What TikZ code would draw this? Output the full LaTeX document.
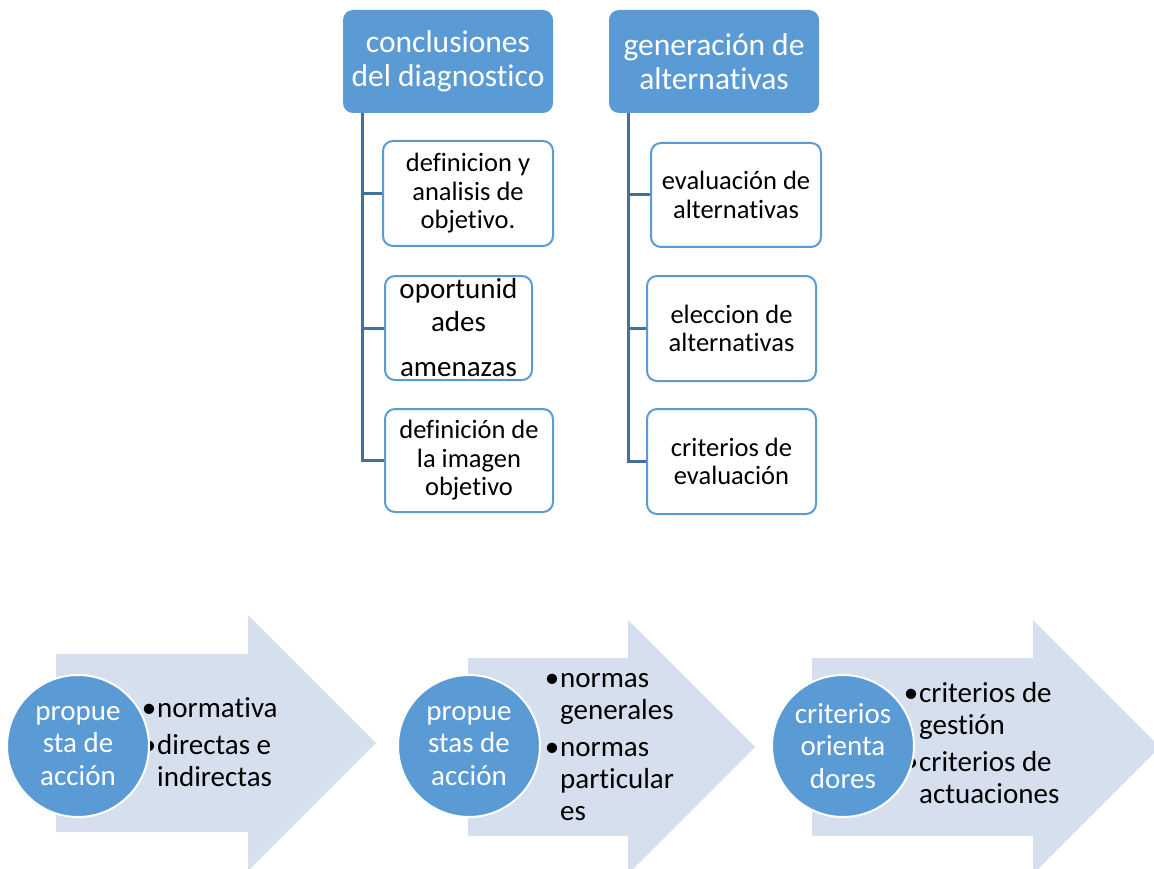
\documentclass[tikz,border=0pt]{standalone}
\usepackage{fontspec}
\setmainfont{Carlito}[RawFeature={-liga;-calt;-clig;-dlig}]
\definecolor{hdr}{HTML}{5B9BD5}
\definecolor{connc}{HTML}{41719C}
\definecolor{arw}{HTML}{D5DFEE}
\begin{document}
\begin{tikzpicture}[x=1pt,y=-1pt,
  hdrbox/.style={fill=hdr, rounded corners=10pt, minimum width=210pt, minimum height=103pt,
    text=white, font=\fontsize{31.5}{33.5}\selectfont, align=center, inner sep=0pt},
  kidbox/.style={draw=hdr, line width=2pt, fill=white, rounded corners=10pt, align=center,
    inner sep=0pt, font=\fontsize{26.5}{28.5}\selectfont, text=black},
  link/.style={draw=connc, line width=3pt},
  bigarrow/.style={fill=arw},
  disc/.style={circle, fill=hdr, draw=white, line width=2pt, minimum size=142pt, inner sep=0pt,
    text=white, align=center, font=\fontsize{29}{32.5}\selectfont},
  bullets/.style={anchor=west, align=left, inner sep=0pt, font=\fontsize{29}{32}\selectfont}
]
\useasboundingbox (0,0) rectangle (1154,869);

% headers
\node[hdrbox] (h1) at (448,61.5) {conclusiones\\del diagnostico};
\node[hdrbox] (h2) at (714,61.5) {generación de\\alternativas};

% children
\node[kidbox, minimum width=170pt, minimum height=105pt] (c11) at (468,193.5) {definicion y\\analisis de\\objetivo.};
\node[kidbox, minimum width=147pt, minimum height=104pt, font=\fontsize{29}{33}\selectfont] (c12) at (458.5,328) {oportunid\\ades\\[12pt]amenazas};
\node[kidbox, minimum width=168pt, minimum height=103pt] (c13) at (469,460.5) {definición de\\la imagen\\objetivo};

\node[kidbox, minimum width=170pt, minimum height=104pt] (c21) at (736,195) {evaluación de\\alternativas};
\node[kidbox, minimum width=169pt, minimum height=105pt] (c22) at (731.5,328.5) {eleccion de\\alternativas};
\node[kidbox, minimum width=169pt, minimum height=105pt] (c23) at (731.5,461.5) {criterios de\\evaluación};

% connectors
\draw[link] ([xshift=20pt]h1.south west) |- (c11.west);
\draw[link] ([xshift=20pt]h1.south west) |- (c12.west);
\draw[link] ([xshift=20pt]h1.south west) |- (c13.west);
\draw[link] ([xshift=20pt]h2.south west) |- (c21.west);
\draw[link] ([xshift=20pt]h2.south west) |- (c22.west);
\draw[link] ([xshift=20pt]h2.south west) |- (c23.west);

% big arrows
\fill[bigarrow] (56,654) -- (248,654) -- (248,615) -- (376,743) -- (248,871) -- (248,832) -- (56,832) -- cycle;
\fill[bigarrow] (468,658) -- (628,658) -- (628,620) -- (755,747) -- (628,874) -- (628,836) -- (468,836) -- cycle;
\fill[bigarrow] (812,658) -- (1033,658) -- (1033,620) -- (1160,747) -- (1033,874) -- (1033,836) -- (812,836) -- cycle;

% bullet texts
\node[bullets] (b1) at (157,742) {\llap{•\hspace{1pt}}normativa\\[5pt]\llap{•\hspace{1pt}}directas e\\indirectas};
\node[bullets] (b2) at (560,747) {\llap{•\hspace{1pt}}normas\\generales\\[5pt]\llap{•\hspace{1pt}}normas\\particular\\es};
\node[bullets] (b3) at (919,743) {\llap{•\hspace{1pt}}criterios de\\gestión\\[5pt]\llap{•\hspace{1pt}}criterios de\\actuaciones};

% discs
\node[disc] (d1) at (78,746) {propue\\sta de\\acción};
\node[disc] (d2) at (469,746) {propue\\stas de\\acción};
\node[disc] (d3) at (843,746) {criterios\\orienta\\dores};
\end{tikzpicture}
\end{document}
